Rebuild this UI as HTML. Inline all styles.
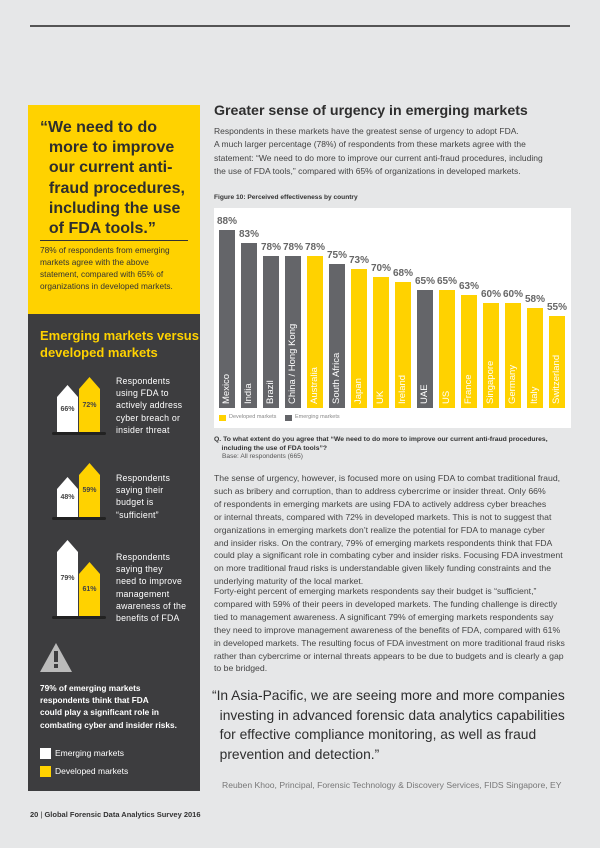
<!DOCTYPE html>
<html><head><meta charset="utf-8"><style>
*{margin:0;padding:0;box-sizing:border-box}
body{width:600px;height:848px;background:#e6e7e8;position:relative;font-family:"Liberation Sans",sans-serif;overflow:hidden}
.a{position:absolute}
.yl{background:#ffd200}
.gr{background:#646569}
.lbl{position:absolute;font-size:10px;color:#666;text-align:center;width:26px;font-weight:bold}
.vl{position:absolute;color:#fff;font-size:9.5px;transform:rotate(-90deg);transform-origin:left top;white-space:nowrap}
.p{font-size:8.7px;color:#444;line-height:12.9px;white-space:nowrap}
.lt{font-size:8.8px;color:#fff;line-height:12.2px;white-space:nowrap;letter-spacing:0.2px}
.arw{position:absolute;clip-path:polygon(0 12px,50% 0,100% 12px,100% 100%,0 100%);font-size:7px;font-weight:bold;color:#444;display:flex;align-items:center;justify-content:center}
</style></head><body>
<div class="a" style="left:30px;top:25px;width:540px;height:2px;background:#555"></div>

<div class="a yl" style="left:28px;top:105px;width:172px;height:209px"></div>
<div class="a" style="left:40px;top:118px;font-size:16px;font-weight:bold;color:#2e2e2e;line-height:20.2px;white-space:nowrap">“We need to do<br>&nbsp;&nbsp;more to improve<br>&nbsp;&nbsp;our current anti-<br>&nbsp;&nbsp;fraud procedures,<br>&nbsp;&nbsp;including the use<br>&nbsp;&nbsp;of FDA tools.”</div>
<div class="a" style="left:40px;top:240px;width:148px;height:1px;background:#333"></div>
<div class="a" style="left:40px;top:244px;font-size:8.3px;color:#333;line-height:12px;white-space:nowrap">78% of respondents from emerging<br>markets agree with the above<br>statement, compared with 65% of<br>organizations in developed markets.</div>

<div class="a" style="left:28px;top:314px;width:172px;height:477px;background:#3d3d3f"></div>
<div class="a" style="left:40px;top:327px;font-size:13px;font-weight:bold;color:#ffd200;line-height:17px;white-space:nowrap">Emerging markets versus<br>developed markets</div>

<div class="arw" style="left:57px;top:385px;width:21px;height:48px;background:#fff">66%</div>
<div class="arw yl" style="left:79px;top:377px;width:21px;height:56px">72%</div>
<div class="a" style="left:52px;top:432px;width:54px;height:3px;background:#222;border-radius:2px"></div>
<div class="a lt" style="left:116px;top:375px">Respondents<br>using FDA to<br>actively address<br>cyber breach or<br>insider threat</div>

<div class="arw" style="left:57px;top:477px;width:21px;height:41px;background:#fff">48%</div>
<div class="arw yl" style="left:79px;top:463px;width:21px;height:55px">59%</div>
<div class="a" style="left:52px;top:517px;width:54px;height:3px;background:#222;border-radius:2px"></div>
<div class="a lt" style="left:116px;top:472px">Respondents<br>saying their<br>budget is<br>“sufficient”</div>

<div class="arw" style="left:57px;top:540px;width:21px;height:77px;background:#fff">79%</div>
<div class="arw yl" style="left:79px;top:562px;width:21px;height:55px">61%</div>
<div class="a" style="left:52px;top:616px;width:54px;height:3px;background:#222;border-radius:2px"></div>
<div class="a lt" style="left:116px;top:551px">Respondents<br>saying they<br>need to improve<br>management<br>awareness of the<br>benefits of FDA</div>

<div class="a" style="left:40px;top:643px;width:32px;height:29px;background:#bbb;clip-path:polygon(50% 0,100% 100%,0 100%)"></div>
<div class="a" style="left:54px;top:651px;width:4px;height:11px;background:#3d3d3f"></div>
<div class="a" style="left:54px;top:664px;width:4px;height:4px;background:#3d3d3f"></div>
<div class="a" style="left:40px;top:682px;font-size:8.3px;font-weight:bold;color:#fff;line-height:12.2px;white-space:nowrap">79% of emerging markets<br>respondents think that FDA<br>could play a significant role in<br>combating cyber and insider risks.</div>
<div class="a" style="left:40px;top:748px;width:11px;height:11px;background:#fff"></div>
<div class="a" style="left:55px;top:748px;font-size:8.5px;color:#fff">Emerging markets</div>
<div class="a yl" style="left:40px;top:766px;width:11px;height:11px"></div>
<div class="a" style="left:55px;top:766px;font-size:8.5px;color:#fff">Developed markets</div>

<div class="a" style="left:214px;top:103px;font-size:14.2px;font-weight:bold;color:#2e2e2e">Greater sense of urgency in emerging markets</div>
<div class="a p" style="left:214px;top:125px;font-size:8.5px;line-height:13.4px">Respondents in these markets have the greatest sense of urgency to adopt FDA.<br>A much larger percentage (78%) of respondents from these markets agree with the<br>statement: “We need to do more to improve our current anti-fraud procedures, including<br>the use of FDA tools,” compared with 65% of organizations in developed markets.</div>
<div class="a" style="left:214px;top:194px;font-size:6.6px;font-weight:bold;color:#333">Figure 10: Perceived effectiveness by country</div>

<div class="a" style="left:214px;top:208px;width:357px;height:220px;background:#fff"></div>
<div id="bars"></div>
<div class="a yl" style="left:219px;top:415px;width:7px;height:6px"></div>
<div class="a" style="left:229px;top:414px;font-size:5.5px;color:#888">Developed markets</div>
<div class="a gr" style="left:285px;top:415px;width:7px;height:6px"></div>
<div class="a" style="left:295px;top:414px;font-size:5.5px;color:#888">Emerging markets</div>

<div class="a" style="left:214px;top:435px;font-size:6.8px;font-weight:bold;color:#333;line-height:9px;white-space:nowrap">Q. To what extent do you agree that “We need to do more to improve our current anti-fraud procedures,<br>&nbsp;&nbsp;&nbsp;&nbsp;including the use of FDA tools”?</div>
<div class="a" style="left:222px;top:453px;font-size:6.6px;color:#555">Base: All respondents (665)</div>

<div class="a p" style="left:214px;top:472px">The sense of urgency, however, is focused more on using FDA to combat traditional fraud,<br>such as bribery and corruption, than to address cybercrime or insider threat. Only 66%<br>of respondents in emerging markets are using FDA to actively address cyber breaches<br>or internal threats, compared with 72% in developed markets. This is not to suggest that<br>organizations in emerging markets don’t realize the potential for FDA to manage cyber<br>and insider risks. On the contrary, 79% of emerging markets respondents think that FDA<br>could play a significant role in combating cyber and insider risks. Focusing FDA investment<br>on more traditional fraud risks is understandable given likely funding constraints and the<br>underlying maturity of the local market.</div>
<div class="a p" style="left:214px;top:585px">Forty-eight percent of emerging markets respondents say their budget is “sufficient,”<br>compared with 59% of their peers in developed markets. The funding challenge is directly<br>tied to management awareness. A significant 79% of emerging markets respondents say<br>they need to improve management awareness of the benefits of FDA, compared with 61%<br>in developed markets. The resulting focus of FDA investment on more traditional fraud risks<br>rather than cybercrime or internal threats appears to be due to budgets and is clearly a gap<br>to be bridged.</div>

<div class="a" style="left:212px;top:686px;font-size:13.8px;color:#2e2e2e;line-height:19.5px;white-space:nowrap">“In Asia-Pacific, we are seeing more and more companies<br>&nbsp;&nbsp;investing in advanced forensic data analytics capabilities<br>&nbsp;&nbsp;for effective compliance monitoring, as well as fraud<br>&nbsp;&nbsp;prevention and detection.”</div>
<div class="a" style="left:222px;top:780px;font-size:8.6px;color:#777">Reuben Khoo, Principal, Forensic Technology &amp; Discovery Services, FIDS Singapore, EY</div>

<div class="a" style="left:30px;top:810px;font-size:7.5px;color:#333"><b>20</b> | <b>Global Forensic Data Analytics Survey 2016</b></div>

<script>
var d=[["Mexico",88,0],["India",83,0],["Brazil",78,0],["China / Hong Kong",78,0],["Australia",78,1],["South Africa",75,0],["Japan",73,1],["UK",70,1],["Ireland",68,1],["UAE",65,0],["US",65,1],["France",63,1],["Singapore",60,1],["Germany",60,1],["Italy",58,1],["Switzerland",55,1]];
var h="";
d.forEach(function(b,i){var x=219+i*22,t=230+(88-b[1])*2.6;
h+='<div class="a '+(b[2]?'yl':'gr')+'" style="left:'+x+'px;top:'+t+'px;width:16px;height:'+(408-t)+'px"></div>';
h+='<div class="lbl" style="left:'+(x-5)+'px;top:'+(t-14)+'px">'+b[1]+'%</div>';
h+='<div class="vl" style="left:'+(x+2)+'px;top:404px">'+b[0]+'</div>';});
document.getElementById("bars").innerHTML=h;
</script>
</body></html>
